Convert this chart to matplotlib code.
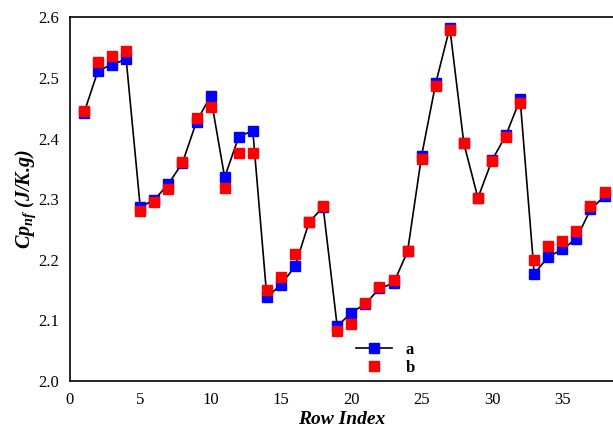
import matplotlib
matplotlib.use("Agg")
import matplotlib.pyplot as plt

rows = list(range(1, 39))
a = [2.442, 2.512, 2.522, 2.531, 2.287, 2.299, 2.325, 2.360, 2.428, 2.470,
     2.336, 2.403, 2.413, 2.138, 2.159, 2.189, 2.262, 2.287, 2.090, 2.113,
     2.127, 2.153, 2.161, 2.214, 2.372, 2.491, 2.583, 2.392, 2.302, 2.364,
     2.406, 2.465, 2.177, 2.205, 2.217, 2.235, 2.283, 2.305]
b = [2.445, 2.527, 2.536, 2.545, 2.281, 2.296, 2.317, 2.362, 2.434, 2.452,
     2.318, 2.376, 2.376, 2.151, 2.172, 2.210, 2.262, 2.289, 2.083, 2.094,
     2.128, 2.155, 2.167, 2.214, 2.366, 2.487, 2.579, 2.392, 2.302, 2.363,
     2.403, 2.459, 2.200, 2.222, 2.231, 2.248, 2.289, 2.312]
xticks = [0, 5, 10, 15, 20, 25, 30, 35]
yticks = [2.0, 2.1, 2.2, 2.3, 2.4, 2.5, 2.6]

plt.rcParams['font.family'] = ['Liberation Serif', 'DejaVu Serif']
plt.rcParams['mathtext.fontset'] = 'custom'
plt.rcParams['mathtext.it'] = 'Liberation Serif:bold:italic'
plt.rcParams['mathtext.rm'] = 'Liberation Serif:bold:italic'

fig = plt.figure(figsize=(6.13, 4.33), dpi=100)
ax = fig.add_axes([0.114, 0.12, 0.886, 0.84])

ax.plot(rows, a, color='black', lw=1.2, marker='s', ms=7.5,
        mfc='blue', mec='blue', label='a', zorder=2)
ax.plot(rows, b, ls='none', marker='s', ms=7.5,
        mfc='red', mec='red', label='b', zorder=3)

ax.set_xlim(0, 38.6)
ax.set_ylim(2.0, 2.6)
ax.set_xticks(xticks)
ax.set_yticks(yticks)
ax.set_yticklabels([f"{v:.1f}" for v in yticks])
ax.tick_params(length=0, labelsize=12, pad=8)
ax.spines['right'].set_visible(False)
for s in ['left', 'bottom', 'top']:
    ax.spines[s].set_linewidth(1.2)

ax.set_xlabel('Row Index', fontsize=14, fontweight='bold', style='italic', labelpad=2)
ax.set_ylabel(r'$Cp_{nf}$ (J/K.g)', fontsize=14.5,
              fontweight='bold', style='italic', labelpad=0)

ax.legend(loc='upper left', bbox_to_anchor=(0.505, 0.14), frameon=False,
          prop={'weight': 'bold', 'size': 12}, handlelength=2.2,
          borderpad=0.2, labelspacing=0.15)

fig.savefig('out.png', dpi=100)
